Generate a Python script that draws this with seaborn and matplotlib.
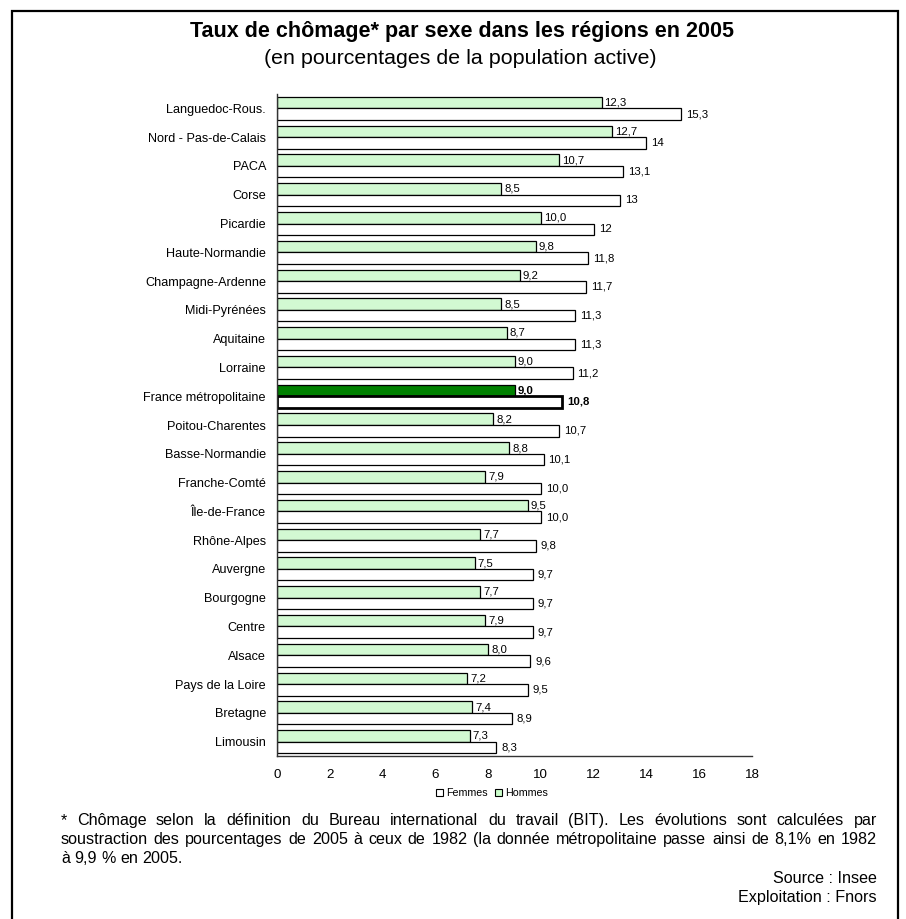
import matplotlib
matplotlib.use("Agg")
import matplotlib.pyplot as plt
from matplotlib.patches import Rectangle, Patch
import pandas as pd
import seaborn as sns

# Regions, ordered from highest to lowest female unemployment
regions = [
    "Languedoc-Rous.", "Nord - Pas-de-Calais", "PACA", "Corse", "Picardie",
    "Haute-Normandie", "Champagne-Ardenne", "Midi-Pyrénées", "Aquitaine",
    "Lorraine", "France métropolitaine", "Poitou-Charentes", "Basse-Normandie",
    "Franche-Comté", "Île-de-France", "Rhône-Alpes", "Auvergne", "Bourgogne",
    "Centre", "Alsace", "Pays de la Loire", "Bretagne", "Limousin",
]
hommes = [12.3, 12.7, 10.7, 8.5, 10.0, 9.8, 9.2, 8.5, 8.7, 9.0, 9.0, 8.2, 8.8,
          7.9, 9.5, 7.7, 7.5, 7.7, 7.9, 8.0, 7.2, 7.4, 7.3]
femmes_txt = ["15,3", "14", "13,1", "13", "12", "11,8", "11,7", "11,3", "11,3",
              "11,2", "10,8", "10,7", "10,1", "10,0", "10,0", "9,8", "9,7",
              "9,7", "9,7", "9,6", "9,5", "8,9", "8,3"]
femmes = [float(s.replace(",", ".")) for s in femmes_txt]
national = "France métropolitaine"
xticks = list(range(0, 19, 2))

sns.set_theme(style="white")
plt.rcParams["font.family"] = ["Liberation Sans", "DejaVu Sans"]
plt.rcParams["text.color"] = "black"
plt.rcParams["axes.labelcolor"] = "black"
plt.rcParams["xtick.color"] = "black"
plt.rcParams["ytick.color"] = "black"

W, H = 906, 919
fig = plt.figure(figsize=(W / 100, H / 100), dpi=100)
fig.patch.set_facecolor("white")

def fx(px):
    return px / W

def fy(py):
    return 1 - py / H

ax = fig.add_axes([fx(277), fy(756), fx(752) - fx(277), fy(94) - fy(756)])

df = pd.DataFrame({
    "region": regions * 2,
    "sexe": ["Hommes"] * len(regions) + ["Femmes"] * len(regions),
    "taux": hommes + femmes,
})

sns.barplot(data=df, y="region", x="taux", hue="sexe", orient="h",
            hue_order=["Hommes", "Femmes"], order=regions,
            palette={"Hommes": "#CCFFCC", "Femmes": "white"},
            edgecolor="black", linewidth=0.9, width=0.8, dodge=True,
            legend=False, ax=ax)

nat = regions.index(national)
bars_h, bars_f = ax.containers[0], ax.containers[1]
bars_h[nat].set_facecolor("#008000")
bars_f[nat].set_linewidth(2.0)

def fmt(v):
    return f"{v:.1f}".replace(".", ",")

# value labels, offset a few pixels to the right of each bar end
for i, r in enumerate(regions):
    bold = "bold" if r == national else "normal"
    bh = bars_h[i]
    yh = bh.get_y() + bh.get_height() / 2
    ax.annotate(fmt(hommes[i]), (hommes[i], yh), xytext=(3, 0),
                textcoords="offset pixels", ha="left", va="center",
                fontsize=8.2, fontweight=bold)
    bf = bars_f[i]
    yf = bf.get_y() + bf.get_height() / 2
    ax.annotate(femmes_txt[i], (femmes[i], yf), xytext=(5, 0),
                textcoords="offset pixels", ha="left", va="center",
                fontsize=8.2, fontweight=bold)

ax.set_xlim(0, 18)
ax.set_ylim(len(regions) - 0.5, -0.5)
ax.set_xticks(xticks)
ax.set_xticklabels([str(t) for t in xticks])
ax.set_xlabel("")
ax.set_ylabel("")
for s in ("top", "right"):
    ax.spines[s].set_visible(False)
for s in ("left", "bottom"):
    ax.spines[s].set_color("#333333")
    ax.spines[s].set_linewidth(1.0)
ax.tick_params(axis="y", which="major", length=0, pad=8, labelsize=9.1)
ax.set_yticks([k - 0.5 for k in range(len(regions) + 1)], minor=True)
ax.tick_params(axis="y", which="minor", length=3.5, width=1.0,
               color="#333333", direction="out")
ax.tick_params(axis="x", which="major", length=4, width=1.0, color="#333333",
               direction="out", labelsize=9.6, pad=5)
ax.grid(False)

# legend below the axis
handles = [Patch(facecolor="white", edgecolor="black", linewidth=0.8, label="Femmes"),
           Patch(facecolor="#CCFFCC", edgecolor="black", linewidth=0.8, label="Hommes")]
fig.legend(handles=handles, loc="center", bbox_to_anchor=(fx(492), fy(793)),
           ncol=2, frameon=False, fontsize=7.7, handlelength=0.65,
           handleheight=0.65, handletextpad=0.35, columnspacing=0.6)

# titles
fig.text(fx(462), fy(32), "Taux de chômage* par sexe dans les régions en 2005",
         ha="center", va="center", fontsize=15.5, fontweight="bold")
fig.text(fx(460), fy(58), "(en pourcentages de la population active)",
         ha="center", va="center", fontsize=15.4)

# justified footnote
renderer = fig.canvas.get_renderer()
note_lines = [
    "* Chômage selon la définition du Bureau international du travail (BIT). Les évolutions sont calculées par",
    "soustraction des pourcentages de 2005 à ceux de 1982 (la donnée métropolitaine passe ainsi de 8,1% en 1982",
    "à 9,9 % en 2005.",
]
x0, x1 = 61, 877
note_base = [825, 844, 863]
note_size = 11.6
for li, (line, ypx) in enumerate(zip(note_lines, note_base)):
    words = line.split(" ")
    texts = [fig.text(0, fy(ypx), w, ha="left", va="baseline", fontsize=note_size)
             for w in words]
    widths = [t.get_window_extent(renderer).width for t in texts]
    if li < len(note_lines) - 1:
        gap = (x1 - x0 - sum(widths)) / (len(words) - 1)
    else:
        space = fig.text(0, 0, "a a", fontsize=note_size)
        aa = fig.text(0, 0, "aa", fontsize=note_size)
        gap = space.get_window_extent(renderer).width - aa.get_window_extent(renderer).width
        space.remove()
        aa.remove()
    x = x0
    for t, w in zip(texts, widths):
        t.set_x(fx(x))
        x += w + gap

fig.text(fx(877), fy(883), "Source : Insee", ha="right", va="baseline", fontsize=note_size)
fig.text(fx(877), fy(902), "Exploitation : Fnors", ha="right", va="baseline", fontsize=note_size)

# outer frame
fig.patches.append(Rectangle((fx(12), fy(925)), fx(898) - fx(12), fy(11) - fy(925),
                             transform=fig.transFigure, fill=False,
                             edgecolor="black", linewidth=1.6))

fig.savefig("out.png", dpi=100)
